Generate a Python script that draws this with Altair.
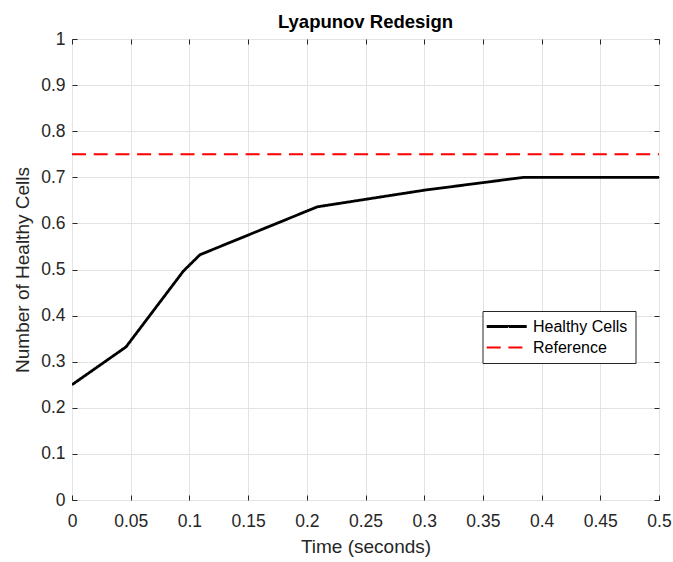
import altair as alt
import pandas as pd

# ---- data ----
time_s = [0.0, 0.046, 0.095, 0.109, 0.209, 0.30, 0.385, 0.5]
healthy = [0.25, 0.332, 0.497, 0.532, 0.636, 0.672, 0.70, 0.70]
ref_time = [0.0, 0.5]
ref_value = [0.75, 0.75]
series_names = ["Healthy Cells", "Reference"]
x_ticks = [0, 0.05, 0.1, 0.15, 0.2, 0.25, 0.3, 0.35, 0.4, 0.45, 0.5]
y_ticks = [0, 0.1, 0.2, 0.3, 0.4, 0.5, 0.6, 0.7, 0.8, 0.9, 1]

df = pd.DataFrame({
    "t": time_s + ref_time,
    "v": healthy + ref_value,
    "series": [series_names[0]] * len(time_s) + [series_names[1]] * len(ref_time),
})

FONT = "Liberation Sans"
AX = "#262626"
GRID = "#e3e3e3"

xs = alt.Scale(domain=[0, 0.5], nice=False, zero=False)
ys = alt.Scale(domain=[0, 1], nice=False, zero=False)

leg = dict(title=None, orient="none", legendX=410.5, legendY=272)

main = alt.Chart(df).mark_line(clip=True).encode(
    x=alt.X("t:Q", scale=xs, axis=alt.Axis(
        values=x_ticks, orient="bottom", title="Time (seconds)", grid=True,
        offset=-5, tickSize=5, labelPadding=12, titlePadding=8, format="",
        labelFlush=False)),
    y=alt.Y("v:Q", scale=ys, axis=alt.Axis(
        values=y_ticks, orient="left", title="Number of Healthy Cells", grid=True,
        offset=-5, tickSize=5, labelPadding=7, titlePadding=8, format="",
        labelFlush=False)),
    color=alt.Color("series:N", scale=alt.Scale(domain=series_names, range=["#000000", "#ff0000"]),
                    legend=alt.Legend(**leg)),
    strokeDash=alt.StrokeDash("series:N", scale=alt.Scale(domain=series_names, range=[[1, 0], [14, 7.7]]),
                              legend=alt.Legend(**leg)),
    strokeWidth=alt.StrokeWidth("series:N", scale=alt.Scale(domain=series_names, range=[2.8, 2.0]), legend=None),
    order=alt.Order("t:Q"),
)

frame = alt.Chart(df).mark_point(opacity=0).encode(
    x=alt.X("t:Q", scale=xs, axis=alt.Axis(
        values=x_ticks, orient="top", title=None, grid=False, labels=False,
        offset=-5, tickSize=5)),
    y=alt.Y("v:Q", scale=ys, axis=alt.Axis(
        values=y_ticks, orient="right", title=None, grid=False, labels=False,
        offset=-5, tickSize=5)),
)

chart = alt.layer(main, frame).resolve_axis(x="independent", y="independent").properties(
    width=587, height=461,
    title=alt.TitleParams("Lyapunov Redesign", fontSize=18.5, font=FONT, fontWeight="bold",
                          color="#000000", offset=-1, anchor="middle"),
    autosize=alt.AutoSizeParams(type="none"),
    padding={"left": 72, "top": 39, "right": 14, "bottom": 62},
).configure_view(
    stroke=AX, strokeWidth=1,
).configure_axis(
    domain=False, tickColor=AX, tickWidth=1, gridColor=GRID, gridWidth=1,
    labelFont=FONT, labelFontSize=17.5, labelColor=AX,
    titleFont=FONT, titleFontSize=19, titleFontWeight="normal", titleColor=AX,
).configure_legend(
    strokeColor=AX, fillColor="#ffffff", padding=7.5, cornerRadius=0,
    labelFont=FONT, labelFontSize=16, labelColor="#000000",
    symbolType="M-2.26,0H5.74", symbolSize=100, symbolStrokeWidth=2.5, rowPadding=5,
    labelOffset=27,
)

chart.save("out.html", embed_options={"renderer": "svg", "actions": False})
